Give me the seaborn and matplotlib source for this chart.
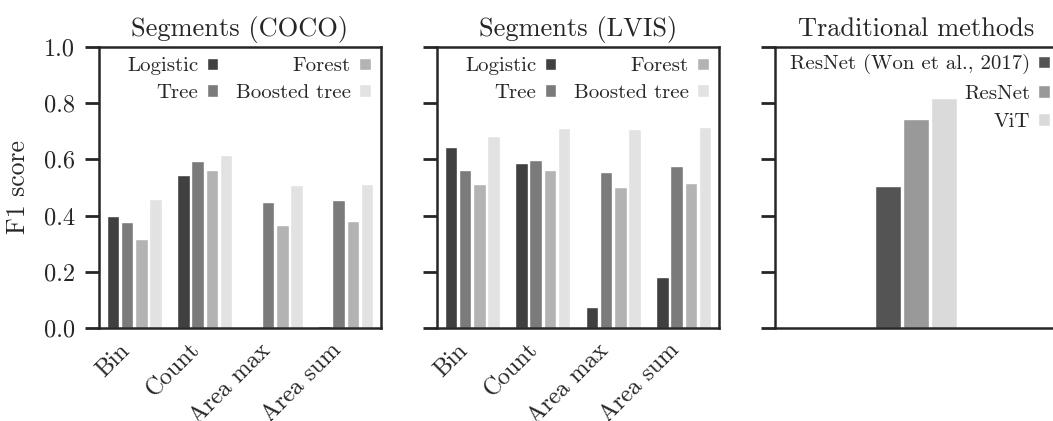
import numpy as np
import pandas as pd
import matplotlib
matplotlib.use("Agg")
import matplotlib.pyplot as plt
import seaborn as sns

features = ["Bin", "Count", "Area max", "Area sum"]
models = ["Logistic", "Tree", "Forest", "Boosted tree"]
coco_logistic = [0.400, 0.544, 0.0, 0.007]
coco_tree = [0.376, 0.596, 0.447, 0.454]
coco_forest = [0.318, 0.561, 0.368, 0.380]
coco_boosted = [0.459, 0.615, 0.510, 0.512]
lvis_logistic = [0.645, 0.588, 0.075, 0.181]
lvis_tree = [0.562, 0.598, 0.556, 0.578]
lvis_forest = [0.512, 0.562, 0.502, 0.517]
lvis_boosted = [0.684, 0.712, 0.708, 0.715]
trad_methods = ["ResNet (Won et al., 2017)", "ResNet", "ViT"]
trad_f1 = [0.505, 0.743, 0.817]

seg_colors = ["#404040", "#7b7b7b", "#b3b3b3", "#e2e2e2"]
trad_colors = ["#545454", "#999999", "#dadada"]

def long_df(series):
    rows = []
    for m, vals in zip(models, series):
        for f, v in zip(features, vals):
            rows.append({"feature": f, "model": m, "f1": v})
    return pd.DataFrame(rows)

coco = long_df([coco_logistic, coco_tree, coco_forest, coco_boosted])
lvis = long_df([lvis_logistic, lvis_tree, lvis_forest, lvis_boosted])
trad = pd.DataFrame({"group": [""] * len(trad_methods), "model": trad_methods, "f1": trad_f1})

sns.set_theme(style="ticks")
plt.rcParams["font.family"] = ["cmr10", "DejaVu Serif"]
plt.rcParams["axes.formatter.use_mathtext"] = True
plt.rcParams["mathtext.fontset"] = "cm"

W, H = 1053, 421
fig, axes = plt.subplots(1, 3, figsize=(W / 100, H / 100), dpi=100, sharey=True)
lefts = [99, 437, 775]
pw, top, bottom = 282, 47, 328
for ax, l in zip(axes, lefts):
    ax.set_position([l / W, 1 - bottom / H, pw / W, (bottom - top) / H])

TITLE = 19
TICK = 17.5
LEG = 15

for ax, df, title in [(axes[0], coco, "Segments (COCO)"), (axes[1], lvis, "Segments (LVIS)")]:
    sns.barplot(data=df, x="feature", y="f1", hue="model", hue_order=models,
                palette=seg_colors, ax=ax, gap=0.12, width=0.8, saturation=1)
    ax.set_title(title, fontsize=TITLE, pad=8)
    ax.set_xlabel("")
    ax.tick_params(axis="x", length=0, labelsize=TICK, pad=8)
    for lab in ax.get_xticklabels():
        lab.set_rotation(45)
        lab.set_ha("right")
    ax.legend(ncol=2, loc="upper right", frameon=False, markerfirst=False,
              fontsize=LEG, handlelength=0.55, handleheight=0.55, handletextpad=0.4,
              columnspacing=0.85, labelspacing=0.4, borderaxespad=0.0, borderpad=0.5)

ax = axes[2]
sns.barplot(data=trad, x="group", y="f1", hue="model", hue_order=trad_methods,
            palette=trad_colors, ax=ax, width=0.3, gap=0.07, saturation=1)
ax.set_title("Traditional methods", fontsize=TITLE, pad=8)
ax.set_xlabel("")
ax.set_xticks([])
ax.legend(ncol=1, loc="upper right", frameon=False, markerfirst=False,
          fontsize=LEG, handlelength=0.55, handleheight=0.55, handletextpad=0.4,
          labelspacing=0.5, borderaxespad=0.0, borderpad=0.35)

for i, ax in enumerate(axes):
    ax.set_ylim(0, 1.0)
    ax.set_yticks([0.0, 0.2, 0.4, 0.6, 0.8, 1.0])
    ax.tick_params(axis="y", direction="out", length=10, width=2, labelsize=TICK, pad=7)
    for s in ax.spines.values():
        s.set_visible(True)
        s.set_linewidth(1.8)
    ax.set_ylabel("F1 score" if i == 0 else "", fontsize=18.5, labelpad=10)
axes[0].yaxis.set_major_formatter(matplotlib.ticker.FormatStrFormatter("%.1f"))

fig.savefig("out.png", dpi=100)
